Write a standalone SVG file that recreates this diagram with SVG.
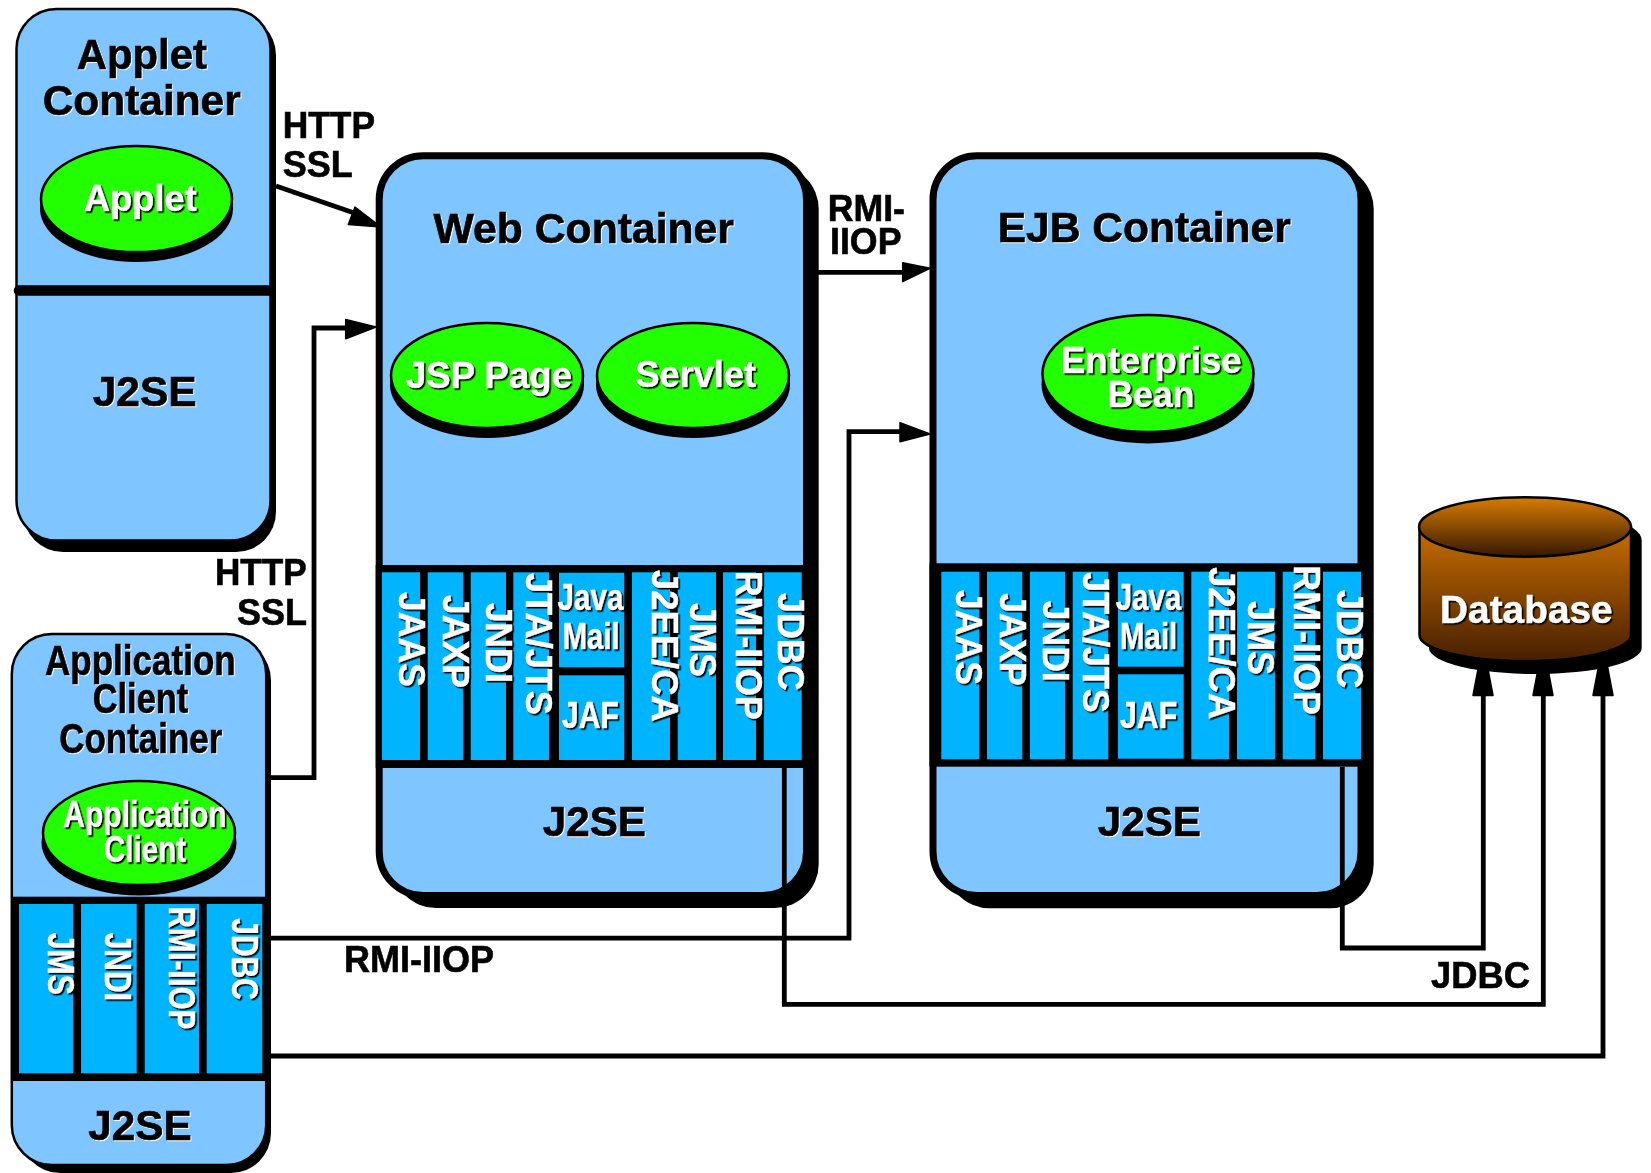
<svg xmlns="http://www.w3.org/2000/svg" width="1651" height="1173" viewBox="0 0 1651 1173">
<style>
text{font-family:"Liberation Sans",Arial,sans-serif;font-weight:700;}
.box{fill:#7fc5ff;stroke:#000;}
.thick{stroke-width:7;}
.thin{stroke-width:2.5;}
.shadow{fill:#000;}
.band{fill:#000;}
.cell{fill:#00b4ff;}
.egg{fill:#22ff00;stroke:#000;stroke-width:2.5;}
.h1{font-size:42px;fill:#000;stroke:#000;stroke-width:.6px;}
.h2{font-size:36px;fill:#000;stroke:#000;stroke-width:.6px;}
.w{font-size:36px;fill:#fff;stroke:#fff;stroke-width:.5px;}
.wl{filter:url(#ws);}
.bl{filter:url(#bs);}
.conn path{fill:none;stroke:#000;stroke-width:4.8;stroke-linejoin:miter;}
.conn polygon{fill:#000;stroke:#000;stroke-width:1.5;stroke-linejoin:round;}
</style>
<defs>
<filter id="ws" x="-10%" y="-10%" width="120%" height="120%" color-interpolation-filters="sRGB"><feDropShadow dx="1.5" dy="1.5" stdDeviation="0" flood-color="#000"/></filter>
<filter id="bs" x="-10%" y="-10%" width="120%" height="120%" color-interpolation-filters="sRGB"><feDropShadow dx="1" dy="1" stdDeviation="0" flood-color="#fff"/></filter>
<linearGradient id="dbBody" x1="0" y1="0" x2="0" y2="1"><stop offset="0" stop-color="#c86e00"/><stop offset="1" stop-color="#471f00"/></linearGradient>
<linearGradient id="dbTop" x1="0" y1="0" x2="0" y2="1"><stop offset="0" stop-color="#d87c00"/><stop offset="1" stop-color="#361800"/></linearGradient>
</defs>

<g id="applet-container">
<rect class="shadow" x="23" y="15" width="253" height="537" rx="40"/>
<rect class="box thin" x="16.5" y="9" width="254" height="531.5" rx="40"/>
<path d="M19 290.4H270" stroke="#000" stroke-width="10.5" stroke-linecap="round" fill="none"/>
<path d="M270 285.2H276V295.7H270Z" fill="#000"/>
<g class="bl">
<text class="h1" x="76.7" y="69" textLength="130.3" lengthAdjust="spacingAndGlyphs">Applet</text>
<text class="h1" x="42.7" y="114.8" textLength="198" lengthAdjust="spacingAndGlyphs">Container</text>
<text class="h1" x="92.7" y="406.4" textLength="104" lengthAdjust="spacingAndGlyphs">J2SE</text>
</g>
<ellipse class="shadow" cx="136.5" cy="208.5" rx="96.5" ry="53.5"/>
<ellipse class="egg" cx="136.5" cy="199" rx="95.5" ry="53"/>
<g class="wl"><text class="w" x="84" y="211" textLength="112.7" lengthAdjust="spacingAndGlyphs">Applet</text></g>
</g>

<g id="client-container">
<rect class="shadow" x="20" y="640" width="251" height="533" rx="40"/>
<rect class="box thin" x="11.8" y="634" width="254.4" height="531" rx="40"/>
<rect class="band" x="11" y="896.7" width="260" height="184.3"/>
<rect class="cell" x="19" y="904" width="54.3" height="169.3"/>
<rect class="cell" x="81" y="904" width="55.7" height="169.3"/>
<rect class="cell" x="144.7" y="904" width="54.3" height="169.3"/>
<rect class="cell" x="206.7" y="904" width="55.6" height="169.3"/>
<g class="bl">
<text class="h1" x="45" y="675" textLength="190.7" lengthAdjust="spacingAndGlyphs">Application</text>
<text class="h1" x="92.7" y="713.3" textLength="95.6" lengthAdjust="spacingAndGlyphs">Client</text>
<text class="h1" x="59.3" y="752.7" textLength="163" lengthAdjust="spacingAndGlyphs">Container</text>
<text class="h1" x="88.3" y="1140" textLength="103.4" lengthAdjust="spacingAndGlyphs">J2SE</text>
</g>
<ellipse class="shadow" cx="139" cy="842.5" rx="97.5" ry="53"/>
<ellipse class="egg" cx="139" cy="833" rx="96" ry="52"/>
<g class="wl">
<text class="w" x="63.3" y="827.3" textLength="163.4" lengthAdjust="spacingAndGlyphs">Application</text>
<text class="w" x="104" y="861.7" textLength="82" lengthAdjust="spacingAndGlyphs">Client</text>
<text class="w" transform="translate(47.7,932.7) rotate(90)" textLength="62.3" lengthAdjust="spacingAndGlyphs">JMS</text>
<text class="w" transform="translate(105,932.7) rotate(90)" textLength="68.3" lengthAdjust="spacingAndGlyphs">JNDI</text>
<text class="w" transform="translate(169,906.7) rotate(90)" textLength="122.6" lengthAdjust="spacingAndGlyphs">RMI-IIOP</text>
<text class="w" transform="translate(231.7,918.3) rotate(90)" textLength="81.7" lengthAdjust="spacingAndGlyphs">JDBC</text>
</g>
</g>

<g id="web-container">
<rect class="shadow" x="392" y="165" width="426.7" height="743" rx="44"/>
<rect class="box thick" x="379.2" y="155.7" width="427.3" height="739.8" rx="44"/>
<rect class="band" x="375.7" y="565" width="431" height="203"/>
<rect class="cell" x="382" y="572.3" width="38" height="187.7"/>
<rect class="cell" x="427.7" y="572.3" width="35.6" height="187.7"/>
<rect class="cell" x="470.7" y="572.3" width="35.3" height="187.7"/>
<rect class="cell" x="513.3" y="572.3" width="35.7" height="187.7"/>
<rect class="cell" x="559" y="572.7" width="65.3" height="94.6"/>
<rect class="cell" x="559" y="675.3" width="65.3" height="84.7"/>
<rect class="cell" x="632" y="572.3" width="38" height="187.7"/>
<rect class="cell" x="677.7" y="572.3" width="38.3" height="187.7"/>
<rect class="cell" x="723" y="572.3" width="33" height="187.7"/>
<rect class="cell" x="763.7" y="572.3" width="38" height="187.7"/>
<g class="bl">
<text class="h1" x="433.5" y="242.7" textLength="300.5" lengthAdjust="spacingAndGlyphs">Web Container</text>
<text class="h1" x="542.7" y="836" textLength="103.3" lengthAdjust="spacingAndGlyphs">J2SE</text>
</g>
<ellipse class="shadow" cx="487" cy="385" rx="97" ry="53"/>
<ellipse class="egg" cx="487" cy="375.5" rx="96" ry="52.5"/>
<ellipse class="shadow" cx="693" cy="385" rx="97" ry="53"/>
<ellipse class="egg" cx="693" cy="375.5" rx="96" ry="52.5"/>
<g class="wl">
<text class="w" x="406" y="388" textLength="166" lengthAdjust="spacingAndGlyphs">JSP Page</text>
<text class="w" x="635.5" y="387.4" textLength="120.5" lengthAdjust="spacingAndGlyphs">Servlet</text>
<text class="w" transform="translate(399,592) rotate(90)" textLength="95" lengthAdjust="spacingAndGlyphs">JAAS</text>
<text class="w" transform="translate(442.7,595) rotate(90)" textLength="93" lengthAdjust="spacingAndGlyphs">JAXP</text>
<text class="w" transform="translate(486,603) rotate(90)" textLength="80" lengthAdjust="spacingAndGlyphs">JNDI</text>
<text class="w" transform="translate(525.7,573) rotate(90)" textLength="142" lengthAdjust="spacingAndGlyphs">JTA/JTS</text>
<text class="w" x="557.5" y="610" textLength="66" lengthAdjust="spacingAndGlyphs">Java</text>
<text class="w" x="562.7" y="649" textLength="57" lengthAdjust="spacingAndGlyphs">Mail</text>
<text class="w" x="562" y="728" textLength="57" lengthAdjust="spacingAndGlyphs">JAF</text>
<text class="w" transform="translate(651.7,570) rotate(90)" textLength="151.7" lengthAdjust="spacingAndGlyphs">J2EE/CA</text>
<text class="w" transform="translate(690,603) rotate(90)" textLength="74" lengthAdjust="spacingAndGlyphs">JMS</text>
<text class="w" transform="translate(735.7,570.7) rotate(90)" textLength="149.3" lengthAdjust="spacingAndGlyphs">RMI-IIOP</text>
<text class="w" transform="translate(778,593) rotate(90)" textLength="97.7" lengthAdjust="spacingAndGlyphs">JDBC</text>
</g>
</g>

<g id="ejb-container">
<rect class="shadow" x="946" y="165" width="427.7" height="743.3" rx="44"/>
<rect class="box thick" x="933" y="155.7" width="428" height="739.8" rx="44"/>
<rect class="band" x="929.5" y="563.3" width="432" height="203.4"/>
<rect class="cell" x="941.3" y="571.7" width="38" height="187.6"/>
<rect class="cell" x="987" y="571.7" width="35.3" height="187.6"/>
<rect class="cell" x="1030" y="571.7" width="35" height="187.6"/>
<rect class="cell" x="1072.7" y="571.7" width="35.6" height="187.6"/>
<rect class="cell" x="1118" y="572" width="65.7" height="94.7"/>
<rect class="cell" x="1118" y="674.3" width="65.7" height="84.4"/>
<rect class="cell" x="1191.3" y="571.7" width="37.7" height="187.6"/>
<rect class="cell" x="1237" y="571.7" width="38" height="187.6"/>
<rect class="cell" x="1282.7" y="571.7" width="32.6" height="187.6"/>
<rect class="cell" x="1323" y="571.7" width="38" height="187.6"/>
<g class="bl">
<text class="h1" x="997.7" y="241.7" textLength="293" lengthAdjust="spacingAndGlyphs">EJB Container</text>
<text class="h1" x="1097.7" y="836" textLength="103.3" lengthAdjust="spacingAndGlyphs">J2SE</text>
</g>
<ellipse class="shadow" cx="1148" cy="384.5" rx="106.5" ry="59"/>
<ellipse class="egg" cx="1148" cy="373.5" rx="105.5" ry="58.5"/>
<g class="wl">
<text class="w" x="1061" y="373" textLength="180.7" lengthAdjust="spacingAndGlyphs">Enterprise</text>
<text class="w" x="1107.7" y="406.7" textLength="86.6" lengthAdjust="spacingAndGlyphs">Bean</text>
<text class="w" transform="translate(955.7,590) rotate(90)" textLength="95" lengthAdjust="spacingAndGlyphs">JAAS</text>
<text class="w" transform="translate(1000,593.3) rotate(90)" textLength="92.7" lengthAdjust="spacingAndGlyphs">JAXP</text>
<text class="w" transform="translate(1042.7,600.7) rotate(90)" textLength="81" lengthAdjust="spacingAndGlyphs">JNDI</text>
<text class="w" transform="translate(1082.7,572.3) rotate(90)" textLength="140.4" lengthAdjust="spacingAndGlyphs">JTA/JTS</text>
<text class="w" x="1115.7" y="610" textLength="65.6" lengthAdjust="spacingAndGlyphs">Java</text>
<text class="w" x="1120" y="649" textLength="57.3" lengthAdjust="spacingAndGlyphs">Mail</text>
<text class="w" x="1120" y="728.3" textLength="57.3" lengthAdjust="spacingAndGlyphs">JAF</text>
<text class="w" transform="translate(1208.7,567.3) rotate(90)" textLength="152" lengthAdjust="spacingAndGlyphs">J2EE/CA</text>
<text class="w" transform="translate(1248,601.3) rotate(90)" textLength="73.7" lengthAdjust="spacingAndGlyphs">JMS</text>
<text class="w" transform="translate(1294,565.3) rotate(90)" textLength="149.7" lengthAdjust="spacingAndGlyphs">RMI-IIOP</text>
<text class="w" transform="translate(1336.7,590) rotate(90)" textLength="98.3" lengthAdjust="spacingAndGlyphs">JDBC</text>
</g>
</g>

<g id="database">
<path class="shadow" d="M1429 540A106 30 0 0 1 1641.7 540V648A106 26 0 0 1 1429 648Z"/>
<path d="M1419.5 527V635A105.5 26 0 0 0 1631 635V527Z" fill="url(#dbBody)" stroke="#000" stroke-width="2.5"/>
<ellipse cx="1525" cy="527" rx="106" ry="29.7" fill="url(#dbTop)" stroke="#000" stroke-width="2.5"/>
<g class="wl"><text x="1440" y="622.7" font-size="39" fill="#fff" stroke="#fff" stroke-width=".5" textLength="172.7" lengthAdjust="spacingAndGlyphs">Database</text></g>
</g>

<g id="connectors" class="conn">
<path d="M276 186L360 215"/>
<polygon points="355,207 348.3,224.6 381,227"/>
<path d="M271 777.7H314V328H350"/>
<polygon points="345.7,319.6 345.7,338.7 376,327"/>
<path d="M818 272.3H905"/>
<polygon points="902.7,262.7 902.7,281.7 930,268.3"/>
<path d="M271 938.2H849V431.7H905"/>
<polygon points="900,422.7 900,441.7 930,434"/>
<path d="M1342.3 767V948H1483.3V694"/>
<polygon points="1473,695.5 1493,695.5 1487,664 1479,664"/>
<path d="M784.3 768V1004.3H1543.3V694"/>
<polygon points="1533,695.5 1553,695.5 1547,664 1539,664"/>
<path d="M271 1056H1603V694"/>
<polygon points="1593,695.5 1613,695.5 1607,664 1599,664"/>
<text class="h2" x="282.7" y="137.8" textLength="92.3" lengthAdjust="spacingAndGlyphs">HTTP</text>
<text class="h2" x="282.7" y="176.8" textLength="70" lengthAdjust="spacingAndGlyphs">SSL</text>
<text class="h2" x="215" y="584.8" textLength="91.7" lengthAdjust="spacingAndGlyphs">HTTP</text>
<text class="h2" x="237" y="625" textLength="70" lengthAdjust="spacingAndGlyphs">SSL</text>
<text class="h2" x="827.7" y="221" textLength="77.3" lengthAdjust="spacingAndGlyphs">RMI-</text>
<text class="h2" x="830" y="254.3" textLength="71.5" lengthAdjust="spacingAndGlyphs">IIOP</text>
<text class="h2" x="344" y="971.5" textLength="150" lengthAdjust="spacingAndGlyphs">RMI-IIOP</text>
<text class="h2" x="1431" y="988.3" textLength="99" lengthAdjust="spacingAndGlyphs">JDBC</text>
</g>
</svg>
